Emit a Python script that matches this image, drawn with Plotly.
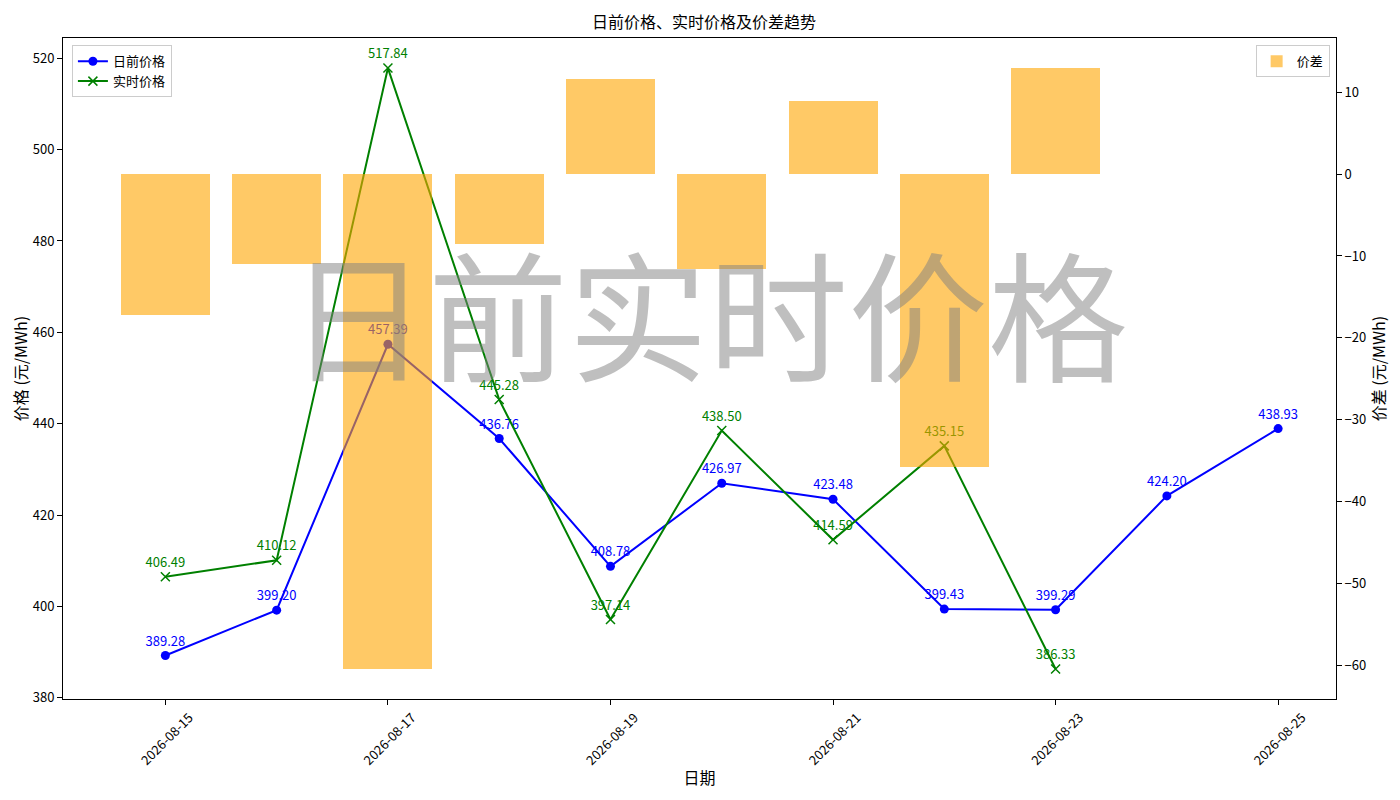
import plotly.graph_objects as go

# data
dates = ["2026-08-15", "2026-08-16", "2026-08-17", "2026-08-18", "2026-08-19", "2026-08-20",
         "2026-08-21", "2026-08-22", "2026-08-23", "2026-08-24", "2026-08-25"]
day_ahead = [389.28, 399.20, 457.39, 436.76, 408.78, 426.97, 423.48, 399.43, 399.29, 424.20, 438.93]

rt_dates = dates[:9]
real_time = [406.49, 410.12, 517.84, 445.28, 397.14, 438.50, 414.59, 435.15, 386.33]
spread = [-17.21, -10.92, -60.45, -8.52, 11.64, -11.53, 8.89, -35.72, 12.96]

tick_dates = ["2026-08-15", "2026-08-17", "2026-08-19", "2026-08-21", "2026-08-23", "2026-08-25"]

FONT = "Noto Sans CJK SC"

fig = go.Figure()

fig.add_trace(go.Scatter(
    x=dates, y=day_ahead,
    mode='lines+markers+text',
    name='日前价格',
    line=dict(color='blue', width=2),
    marker=dict(symbol='circle', size=9, color='blue'),
    texttemplate='%{y:.2f}',
    textposition='top center',
    textfont=dict(color='blue', size=13, family=FONT),
    cliponaxis=False,
    legend='legend'
))

fig.add_trace(go.Scatter(
    x=rt_dates, y=real_time,
    mode='lines+markers+text',
    name='实时价格',
    line=dict(color='green', width=2),
    marker=dict(symbol='x-thin-open', size=9, color='green', line=dict(color='green', width=1.5)),
    texttemplate='%{y:.2f}',
    textposition='top center',
    textfont=dict(color='green', size=13, family=FONT),
    cliponaxis=False,
    legend='legend'
))

# spread bars on the twin axis (drawn over the lines, like the original)
fig.add_trace(go.Bar(
    x=rt_dates, y=spread,
    name='价差',
    marker=dict(color='rgba(255,165,0,0.6)', line=dict(width=0)),
    width=0.8 * 86400000,
    yaxis='y2',
    legend='legend2'
))

# watermark
fig.add_annotation(
    text='日前实时价格',
    xref='paper', yref='paper', x=0.507, y=0.588,
    xanchor='center', yanchor='middle',
    showarrow=False,
    font=dict(size=140, color='rgba(128,128,128,0.5)', family=FONT)
)

# page body has an 8px margin, so the figure is 8px smaller and margins shifted
fig.update_layout(
    width=1392, height=792,
    margin=dict(l=55, r=64, t=30, b=101),
    paper_bgcolor='white', plot_bgcolor='white',
    font=dict(family=FONT, size=13, color='black'),
    title=dict(text='日前价格、实时价格及价差趋势', x=0.5, xanchor='center', y=0.982,
               yanchor='middle', font=dict(size=16)),
    xaxis=dict(
        type='date', automargin=False,
        range=['2026-08-14 01:55:12', '2026-08-25 12:28:48'],
        tickvals=tick_dates, tickformat='%Y-%m-%d',
        tickangle=-45, ticklabelshift=24,
        ticks='outside', ticklen=5, tickcolor='black',
        showline=True, linecolor='black', linewidth=1, mirror=True,
        showgrid=False, zeroline=False,
        title=dict(text='日期', standoff=5)
    ),
    yaxis=dict(
        automargin=False,
        range=[379.75, 524.42], dtick=20,
        ticks='outside', ticklen=5, tickcolor='black',
        showline=True, linecolor='black', linewidth=1,
        showgrid=False, zeroline=False,
        title=dict(text='价格 (元/MWh)', standoff=6)
    ),
    yaxis2=dict(
        overlaying='y', side='right', automargin=False,
        range=[-64.12, 16.63], dtick=10,
        ticks='outside', ticklen=5, tickcolor='black',
        showline=True, linecolor='black', linewidth=1,
        showgrid=False, zeroline=False,
        title=dict(text='价差 (元/MWh)', standoff=6)
    ),
    legend=dict(x=0.007, y=0.989, xanchor='left', yanchor='top',
                bgcolor='rgba(255,255,255,0.8)', bordercolor='#cccccc', borderwidth=1,
                font=dict(size=13)),
    legend2=dict(x=0.995, y=0.989, xanchor='right', yanchor='top',
                 bgcolor='rgba(255,255,255,0.8)', bordercolor='#cccccc', borderwidth=1,
                 font=dict(size=13)),
    bargap=0
)

fig.write_html("out.html")
